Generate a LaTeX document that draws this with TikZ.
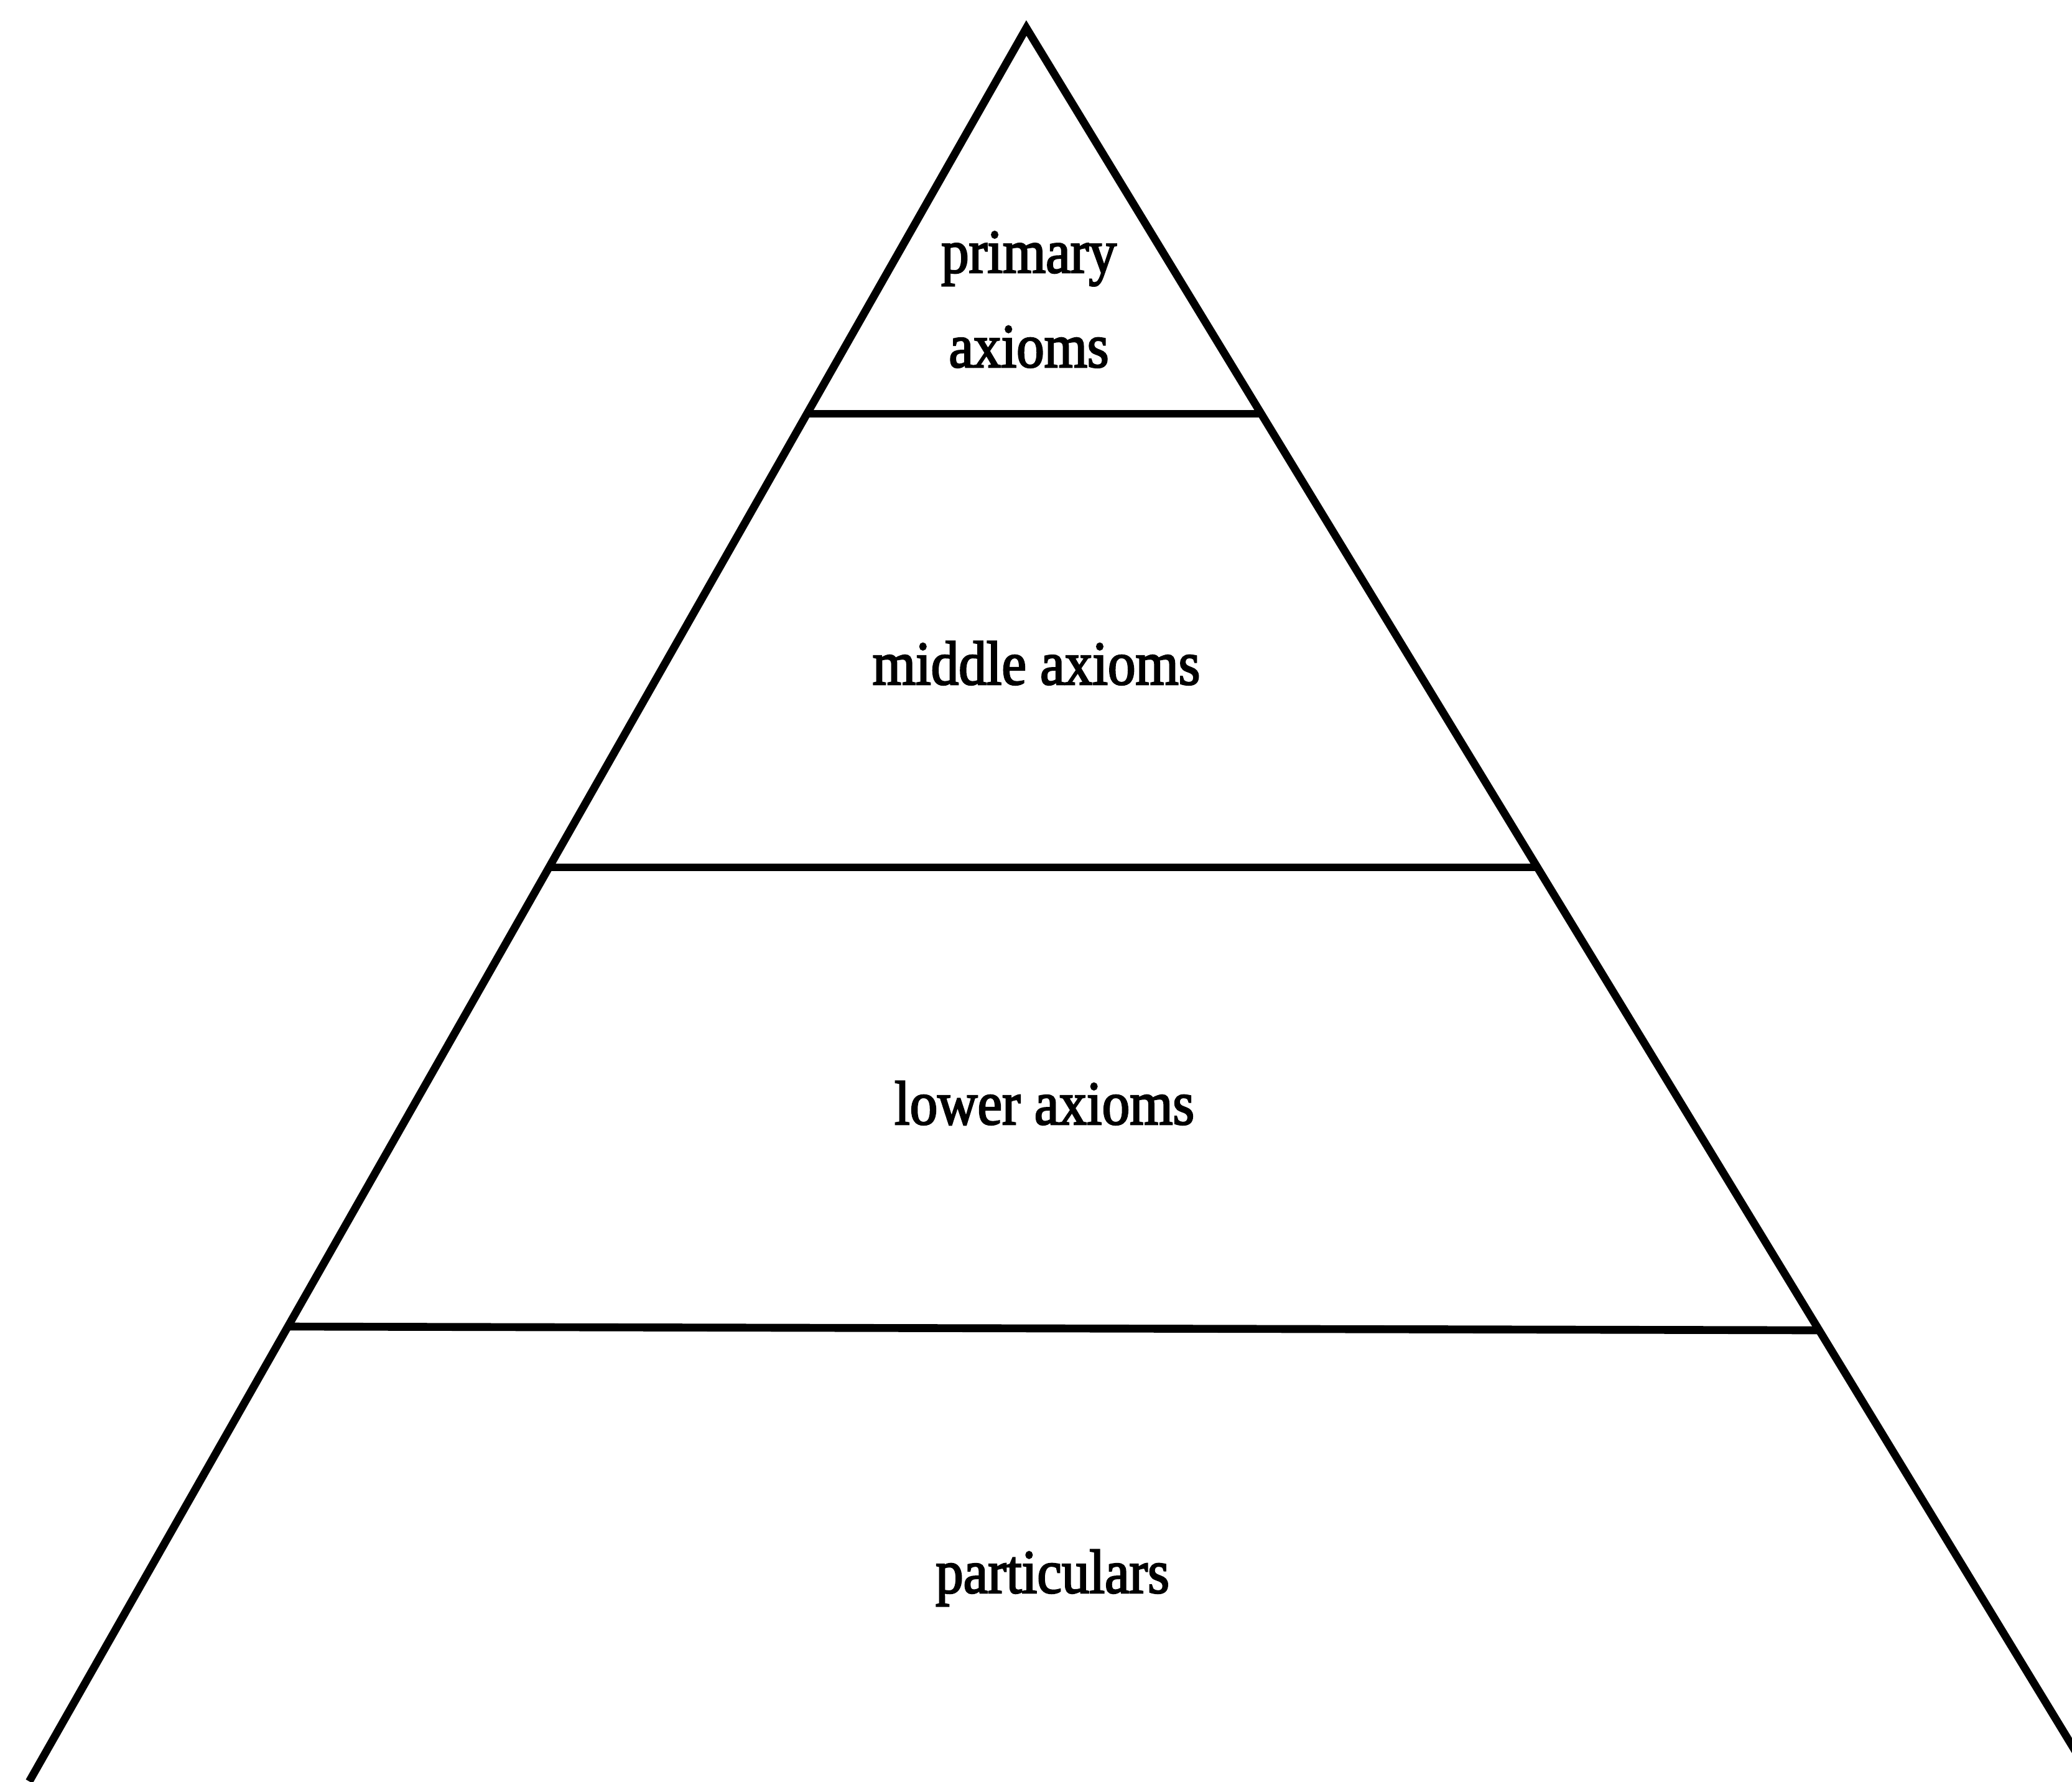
\documentclass[tikz,border=0pt]{standalone}
\usepackage{fontspec}
\setmainfont{Liberation Serif}[FakeStretch=0.89,FakeBold=2.5]
\begin{document}
\begin{tikzpicture}[x=1cm,y=-1cm,line width=3.6pt,
  level/.style={anchor=base,inner sep=0pt,align=center,font=\fontsize{28.45}{43.2}\selectfont}]
\useasboundingbox (0,0) rectangle (33.31,28.63);
\clip (0,0) rectangle (33.31,28.63);
\coordinate (top) at (16.50,0.45);
\coordinate (bl) at (0.47,28.63);
\coordinate (br) at (33.66,28.63);
\coordinate (l1) at (12.97,6.65);
\coordinate (r1) at (20.28,6.65);
\coordinate (l2) at (8.83,13.94);
\coordinate (r2) at (24.72,13.94);
\coordinate (l3) at (4.63,21.32);
\coordinate (r3) at (29.25,21.38);
\draw (bl) -- (top) -- (br);
\draw (l1) -- (r1);
\draw (l2) -- (r2);
\draw (l3) -- (r3);
\node[level] (primary) at (16.54,5.90) {primary\\axioms};
\node[level] (middle) at (16.66,11.00) {middle axioms};
\node[level] (lower) at (16.79,18.07) {lower axioms};
\node[level] (partic) at (16.92,25.60) {particulars};
\end{tikzpicture}
\end{document}
